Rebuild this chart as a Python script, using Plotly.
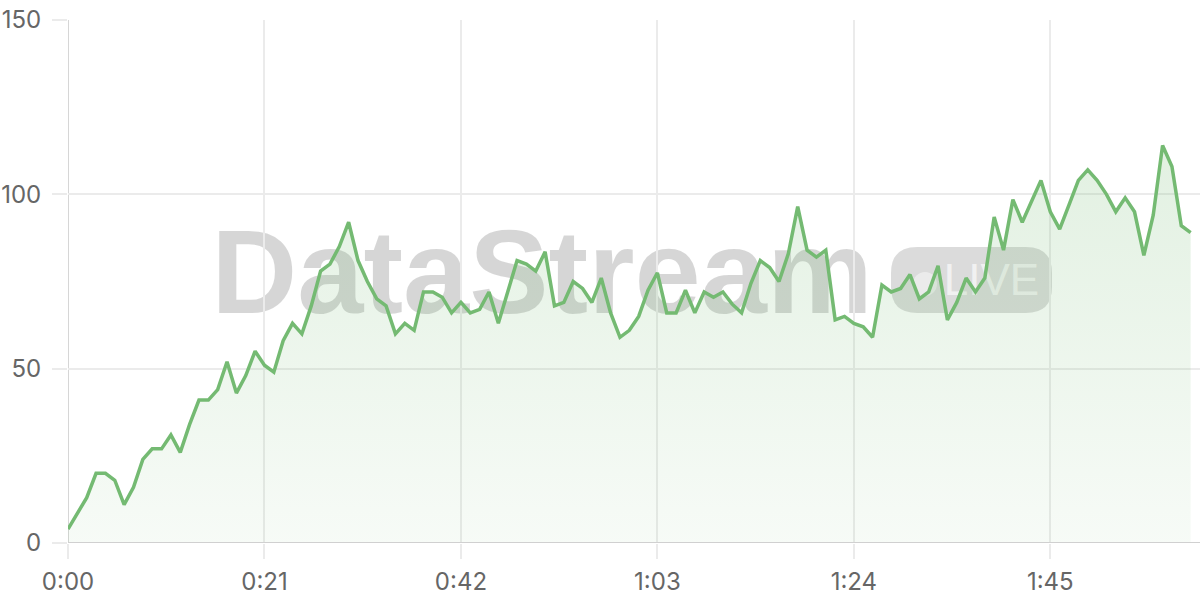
import plotly.graph_objects as go

# ---- data ----
seconds = list(range(121))
values = [
    4, 8.5, 13, 20, 20, 18, 11, 16, 24, 27,
    27, 31, 26, 34, 41, 41, 44, 52, 43, 48,
    55, 51, 49, 58, 63, 60, 68, 78, 80, 85,
    92, 81, 75, 70, 68, 60, 63, 61, 72, 72,
    70.5, 66, 69, 66, 67, 72, 63, 72, 81, 80,
    78, 83.5, 68, 69, 75, 73, 69, 76, 66, 59,
    61, 65, 72.5, 77.5, 66, 66, 72.5, 66, 72, 70.5,
    72, 68.5, 66, 74.5, 81, 79, 75, 83, 96.5, 84,
    82, 84, 64, 65, 63, 62, 59, 74, 72, 73,
    77, 70, 72, 79.5, 64, 69, 76, 72, 76, 93.5,
    84, 98.5, 92, 98, 104, 95, 90, 97, 104, 107,
    104, 100, 95, 99, 95, 82.5, 94, 114, 108, 91,
    89,
]
x_tick_vals = [0, 21, 42, 63, 84, 105]
x_tick_text = ["0:00", "0:21", "0:42", "1:03", "1:24", "1:45"]
y_tick_vals = [0, 50, 100, 150]
y_tick_text = ["0", "50", "100", "150"]
watermark_text = "DataStream"
badge_text = "LIVE"

# ---- layout geometry (pixels) ----
W, H = 1200, 600
L, R, T, B = 68, 0, 20, 57
PW, PH = W - L - R, H - T - B


def px(xp):
    return (xp - L) / PW


def py(yp):
    return (H - B - yp) / PH


LINE = "#74ba72"

fig = go.Figure()
fig.add_trace(go.Scatter(
    x=seconds, y=values, mode="lines",
    line=dict(color=LINE, width=3.5),
    fill="tozeroy",
    fillgradient=dict(
        type="vertical", start=0, stop=150,
        colorscale=[[0, "rgba(118,187,116,0.06)"], [1, "rgba(118,187,116,0.26)"]],
    ),
    hoverinfo="skip", showlegend=False,
))

# watermark (below traces)
shapes = []
shapes.append(dict(
    type="rect", xref="paper", yref="paper", layer="below",
    x0=px(190), x1=px(894), y0=py(318), y1=py(203),
    line=dict(width=0), fillcolor="rgba(0,0,0,0)",
    label=dict(text=watermark_text, textposition="middle center",
               font=dict(family="Liberation Sans", size=119, color="rgba(0,0,0,0.16)", weight="bold")),
))
# badge rounded rect
bx0, bx1, by0, by1, r = 891, 1052, 247, 313, 26
path = (
    f"M{px(bx0 + r)},{py(by0)} L{px(bx1 - r)},{py(by0)} "
    f"Q{px(bx1)},{py(by0)} {px(bx1)},{py(by0 + r)} "
    f"L{px(bx1)},{py(by1 - r)} "
    f"Q{px(bx1)},{py(by1)} {px(bx1 - r)},{py(by1)} "
    f"L{px(bx0 + r)},{py(by1)} "
    f"Q{px(bx0)},{py(by1)} {px(bx0)},{py(by1 - r)} "
    f"L{px(bx0)},{py(by0 + r)} "
    f"Q{px(bx0)},{py(by0)} {px(bx0 + r)},{py(by0)} Z"
)
shapes.append(dict(
    type="path", xref="paper", yref="paper", layer="below", path=path,
    line=dict(width=0), fillcolor="rgba(0,0,0,0.14)",
))
# dot in badge
shapes.append(dict(
    type="circle", xref="paper", yref="paper", layer="below",
    x0=px(913), x1=px(937), y0=py(296), y1=py(272),
    line=dict(width=0), fillcolor="rgba(255,255,255,0.45)",
))
shapes.append(dict(
    type="rect", xref="paper", yref="paper", layer="below",
    x0=px(944), x1=px(1039), y0=py(296), y1=py(254),
    line=dict(width=0), fillcolor="rgba(0,0,0,0)",
    label=dict(text=badge_text, textposition="middle center",
               font=dict(family="Liberation Sans", size=44, color="rgba(255,255,255,0.65)")),
))

fig.update_layout(
    width=W, height=H,
    margin=dict(l=L, r=R, t=T, b=B, autoexpand=False),
    paper_bgcolor="white", plot_bgcolor="white",
    shapes=shapes,
    font=dict(family="Inter", size=24, color="#666666"),
    xaxis=dict(
        range=[0, 121], tickmode="array", tickvals=x_tick_vals, ticktext=x_tick_text,
        showgrid=True, gridcolor="#ebebeb", gridwidth=1.5,
        ticks="outside", ticklen=15, tickcolor="#ebebeb", tickwidth=1.5,
        showline=False, zeroline=False, ticklabelstandoff=2, automargin=False,
    ),
    yaxis=dict(
        range=[0, 150], tickmode="array", tickvals=y_tick_vals, ticktext=y_tick_text,
        showgrid=True, gridcolor="#ebebeb", gridwidth=1.5,
        ticks="outside", ticklen=15, tickcolor="#ebebeb", tickwidth=1.5,
        showline=False, zeroline=False, ticklabelstandoff=6, automargin=False,
    ),
)
# axis lines at x=0 and y=0
fig.add_shape(type="line", xref="x", yref="paper", x0=0, x1=0, y0=0, y1=1,
              line=dict(color="#d6d6d6", width=2), layer="below")
fig.add_shape(type="line", xref="paper", yref="y", x0=0, x1=1, y0=0, y1=0,
              line=dict(color="#d0d0d0", width=2), layer="above")

fig.write_html(
    "out.html",
    config={"displayModeBar": False},
    post_script="document.body.style.margin='0';document.body.style.overflow='hidden';",
)
